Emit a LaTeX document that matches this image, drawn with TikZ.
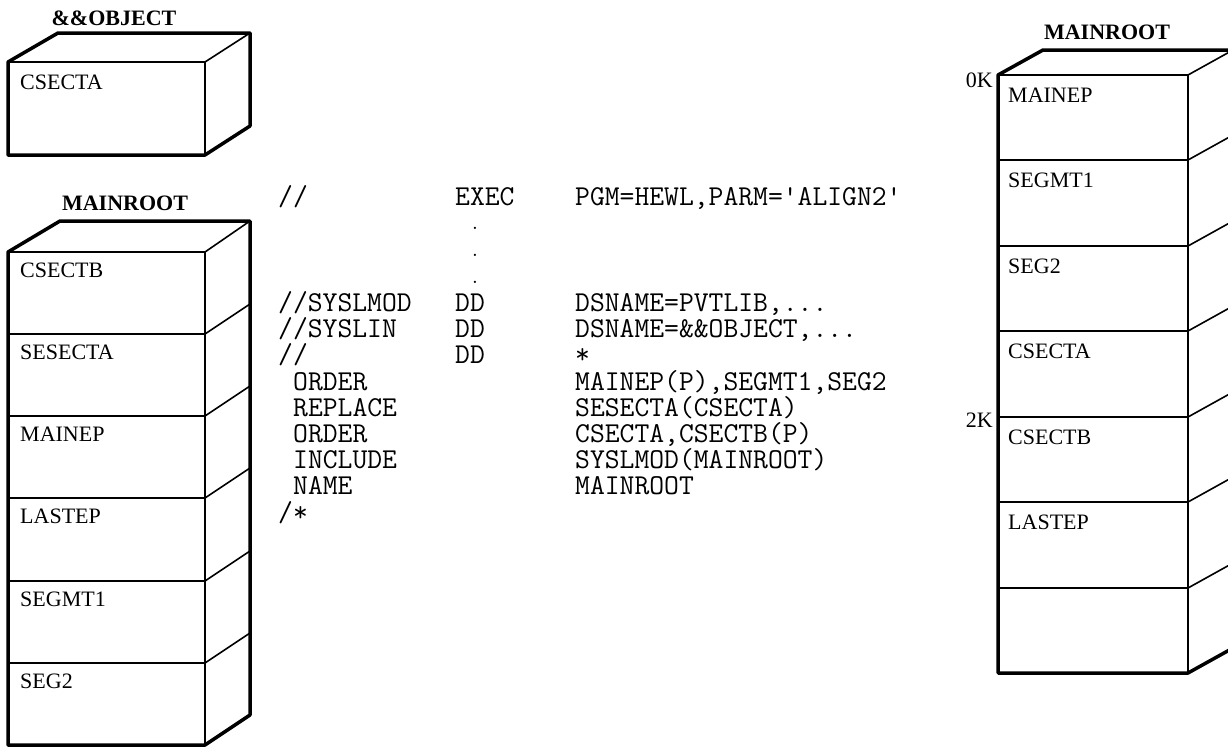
\documentclass[tikz,border=0pt]{standalone}
\usepackage{fontspec}
\setmainfont{Liberation Serif}

\begin{document}
\begin{tikzpicture}[x=1pt, y=-1pt,
    outline/.style={line width=3.5pt, line join=round},
    inner/.style={line width=1.6pt},
    title/.style={font=\fontsize{22}{26}\selectfont\bfseries},
    seg/.style={font=\fontsize{22}{26}\selectfont, anchor=west, inner sep=0pt},
    jcl/.style={font=\ttfamily\fontsize{28.8}{26.5}\selectfont\addfontfeature{FakeBold=1.4}, anchor=base west, inner sep=0pt}]
    \useasboundingbox (0,0) rectangle (1228,747);
    \clip (0,0) rectangle (1228,747);

    % &&OBJECT
    \begin{scope}
        \node[title] (objtitle) at (114,18) {\&\&OBJECT};
        \draw[inner] (8,62) -- (205,62) -- (250,33);
        \draw[inner] (205,62) -- (205,155);
        \draw[outline] (8,62) -- (58,33) -- (250,33) -- (250,126) -- (205,155) -- (8,155) -- cycle;
        \node[seg] (objcsecta) at (20,82) {CSECTA};
    \end{scope}

    % 左边 MAINROOT
    \begin{scope}
        \node[title] (lroot) at (125,203) {MAINROOT};
        \draw[inner] (8,252) -- (205,252) -- (250,221);
        \draw[inner] (205,252) -- (205,745);
        \draw[inner] (8,334) -- (205,334) -- (250,304);
        \draw[inner] (8,416) -- (205,416) -- (250,386);
        \draw[inner] (8,498) -- (205,498) -- (250,468);
        \draw[inner] (8,581) -- (205,581) -- (250,551);
        \draw[inner] (8,663) -- (205,663) -- (250,633);
        \draw[outline] (8,252) -- (60,221) -- (250,221) -- (250,715) -- (205,745) -- (8,745) -- cycle;
        \node[seg] (lcsectb) at (20,270) {CSECTB};
        \node[seg] (lsesecta) at (20,352) {SESECTA};
        \node[seg] (lmainep) at (20,434) {MAINEP};
        \node[seg] (llastep) at (20,516) {LASTEP};
        \node[seg] (lsegmt1) at (20,599) {SEGMT1};
        \node[seg] (lseg2) at (20,681) {SEG2};
    \end{scope}

    % JCL
    \node[jcl] (j1a) at (278,205) {//};
    \node[jcl] (j1b) at (455,205) {EXEC};
    \node[jcl] (j1c) at (575,205) {PGM=HEWL,PARM='ALIGN2'};
    \node[jcl, anchor=north, align=center, font=\ttfamily\fontsize{20}{27}\selectfont\addfontfeature{FakeBold=3}] (dots) at (475,227) {.\\.\\.};
    \node[jcl] (j2a) at (278,311) {//SYSLMOD};
    \node[jcl] (j2b) at (455,311) {DD};
    \node[jcl] (j2c) at (575,311) {DSNAME=PVTLIB,...};
    \node[jcl] (j3a) at (278,337) {//SYSLIN};
    \node[jcl] (j3b) at (455,337) {DD};
    \node[jcl] (j3c) at (575,337) {DSNAME=\&\&OBJECT,...};
    \node[jcl] (j4a) at (278,363) {//};
    \node[jcl] (j4b) at (455,363) {DD};
    \node[jcl] (j4c) at (575,363) {*};
    \node[jcl] (j5a) at (293,390) {ORDER};
    \node[jcl] (j5c) at (575,390) {MAINEP(P),SEGMT1,SEG2};
    \node[jcl] (j6a) at (293,416) {REPLACE};
    \node[jcl] (j6c) at (575,416) {SESECTA(CSECTA)};
    \node[jcl] (j7a) at (293,442) {ORDER};
    \node[jcl] (j7c) at (575,442) {CSECTA,CSECTB(P)};
    \node[jcl] (j8a) at (293,468) {INCLUDE};
    \node[jcl] (j8c) at (575,468) {SYSLMOD(MAINROOT)};
    \node[jcl] (j9a) at (293,494) {NAME};
    \node[jcl] (j9c) at (575,494) {MAINROOT};
    \node[jcl] (j10a) at (278,521) {/*};

    % 右边 MAINROOT
    \begin{scope}
        \node[title] (rroot) at (1107,32) {MAINROOT};
        \draw[inner] (998,75) -- (1188,75) -- (1233,50);
        \draw[inner] (1188,75) -- (1188,673);
        \draw[inner] (998,160) -- (1188,160) -- (1233,135);
        \draw[inner] (998,246) -- (1188,246) -- (1233,221);
        \draw[inner] (998,331) -- (1188,331) -- (1233,306);
        \draw[inner] (998,417) -- (1188,417) -- (1233,392);
        \draw[inner] (998,502) -- (1188,502) -- (1233,477);
        \draw[inner] (998,588) -- (1188,588) -- (1233,563);
        \draw[outline] (998,75) -- (1043,50) -- (1233,50) -- (1233,648) -- (1188,673) -- (998,673) -- cycle;
        \node[seg] (rmainep) at (1008,95) {MAINEP};
        \node[seg] (rsegmt1) at (1008,180) {SEGMT1};
        \node[seg] (rseg2) at (1008,266) {SEG2};
        \node[seg] (rcsecta) at (1008,351) {CSECTA};
        \node[seg] (rcsectb) at (1008,437) {CSECTB};
        \node[seg] (rlastep) at (1008,522) {LASTEP};
        \node[seg, anchor=east] (k0) at (993,80) {0K};
        \node[seg, anchor=east] (k2) at (993,420) {2K};
    \end{scope}
\end{tikzpicture}
\end{document}
